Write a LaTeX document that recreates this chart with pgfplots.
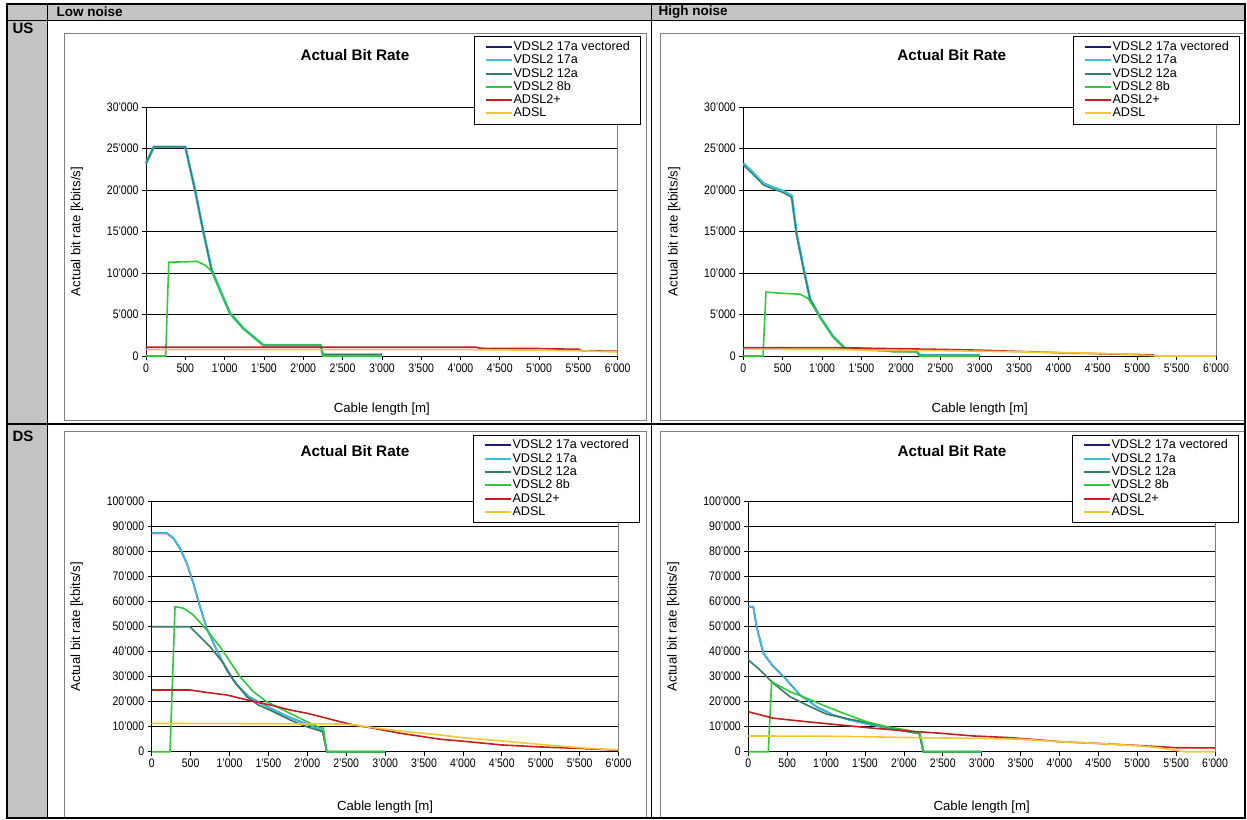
\documentclass[border=0pt]{standalone}
\usepackage{fontspec}
\setmainfont{Liberation Sans}
\usepackage{graphicx}
\usepackage{pgfplots}
\pgfplotsset{compat=1.18}
\definecolor{cvec}{RGB}{30,30,110}
\definecolor{c17a}{RGB}{60,190,225}
\definecolor{c12a}{RGB}{55,125,100}
\definecolor{c8b}{RGB}{50,200,60}
\definecolor{cadsl2}{RGB}{192,32,32}
\definecolor{cadsl}{RGB}{240,200,50}
\definecolor{tblgray}{RGB}{196,196,196}
\definecolor{chartborder}{RGB}{128,128,128}
\newcommand{\vs}[1]{\scalebox{1}[1.18]{#1}}
\pgfplotsset{
  every axis title shift=0pt,
  dsl/.style={
    scale only axis, anchor=south west,
    xmin=0, xmax=6000, xtick={0,500,...,6000}, clip=false,
    xticklabels={\vs{0},\vs{500},\vs{1'000},\vs{1'500},\vs{2'000},\vs{2'500},\vs{3'000},\vs{3'500},\vs{4'000},\vs{4'500},\vs{5'000},\vs{5'500},\vs{6'000}},
    axis x line*=bottom, axis y line*=left,
    axis line style={black, line width=0.8pt, -},
    ymajorgrids, grid style={black, line width=0.75pt},
    tick align=outside, major tick length=4pt,
    tick style={black, line width=0.7pt},
    scaled ticks=false,
    ticklabel style={font=\fontsize{10.5}{12}\selectfont},
    xlabel={Cable length [m]}, ylabel={Actual bit rate [kbits/s]},
    label style={font=\fontsize{13.2}{15}\selectfont},
    title style={font=\bfseries\fontsize{15.3}{18}\selectfont, anchor=center},
    legend style={draw=black, line width=0.8pt, fill=white, anchor=north east,
      font=\fontsize{12.6}{14}\selectfont, cells={anchor=west},
      inner xsep=10pt, inner ysep=4pt, row sep=0.3pt,
      nodes={inner sep=0.8pt, text height=9.2pt, text depth=2.2pt}},
    legend image code/.code={\draw[#1, line width=2pt] (0pt,0pt) -- (26pt,0pt);},
    legend entries={VDSL2 17a vectored, VDSL2 17a, VDSL2 12a, VDSL2 8b, ADSL2+, ADSL},
  },
  usy/.style={ymin=0, ymax=30000, ytick={0,5000,...,30000},
    yticklabels={\vs{0},\vs{5'000},\vs{10'000},\vs{15'000},\vs{20'000},\vs{25'000},\vs{30'000}}},
  dsy/.style={ymin=0, ymax=100000, ytick={0,10000,...,100000},
    yticklabels={\vs{0},\vs{10'000},\vs{20'000},\vs{30'000},\vs{40'000},\vs{50'000},\vs{60'000},\vs{70'000},\vs{80'000},\vs{90'000},\vs{100'000}}},
  sv/.style={cvec, line width=1.6pt},
  s17/.style={c17a, line width=1.6pt},
  s12/.style={c12a, line width=1.6pt},
  s8/.style={c8b, line width=1.6pt},
  sa2/.style={cadsl2, line width=1.6pt},
  sa/.style={cadsl, line width=1.6pt},
}
\begin{document}
\begin{tikzpicture}
\useasboundingbox (0,0) rectangle (1247pt,-819pt);
\fill[tblgray] (7pt,-4pt) rectangle (1245pt,-20pt);
\fill[tblgray] (7pt,-20pt) rectangle (47pt,-818pt);
\draw[chartborder, line width=1pt] (64pt,-33.5pt) rectangle (646pt,-420pt);
\draw[chartborder, line width=1pt] (660pt,-33.5pt) rectangle (1244pt,-420pt);
\draw[chartborder, line width=1pt] (64pt,-431pt) rectangle (646pt,-817pt);
\draw[chartborder, line width=1pt] (660pt,-431pt) rectangle (1244pt,-817pt);
\draw[line width=1.2pt] (7pt,-4pt) rectangle (1245pt,-818pt);
\draw[line width=1pt] (7pt,-20pt) -- (1245pt,-20pt);
\draw[line width=1.6pt] (7pt,-424pt) -- (1245pt,-424pt);
\draw[line width=1pt] (47pt,-4pt) -- (47pt,-818pt);
\draw[line width=1pt] (651pt,-4pt) -- (651pt,-818pt);
\node[anchor=west, font=\bfseries\fontsize{13.5}{15}\selectfont] at (53pt,-12pt) {Low noise};
\node[anchor=west, font=\bfseries\fontsize{13.5}{15}\selectfont] at (655pt,-12pt) {High noise};
\node[anchor=west, font=\bfseries\fontsize{15}{17}\selectfont] at (9pt,-28pt) {US};
\node[anchor=west, font=\bfseries\fontsize{15}{17}\selectfont] at (9pt,-436pt) {DS};

% ---------- US, low noise ----------
\begin{axis}[dsl, usy, at={(146pt,-356pt)}, width=471.7pt, height=249pt,
  title={Actual Bit Rate}, title style={at={(axis description cs:0.443,1.2088)}},
  legend style={at={(axis description cs:1.0494,1.285)}},
  xlabel style={at={(axis description cs:0.5,0)}, anchor=center, yshift=-53pt},
  ylabel style={at={(axis description cs:0,0.5)}, anchor=center, yshift=69pt}]
\addplot[sv] coordinates {(0,23200)(100,25200)(500,25200)(623,20000)(729,15000)(835,10360)(941,7950)(1069,5140)(1238,3330)(1493,1300)(2220,1300)(2250,150)(3000,150)};
\addplot[c17a, line width=2.6pt] coordinates {(0,23200)(100,25200)(500,25200)(623,20000)(729,15000)(835,10360)(941,7950)(1069,5140)(1238,3330)(1493,1300)(2220,1300)(2250,150)(3000,150)};
\addplot[c12a, line width=1.2pt] coordinates {(0,23200)(100,25200)(500,25200)(623,20000)(729,15000)(835,10360)(941,7950)(1069,5140)(1238,3330)(1493,1300)(2220,1300)(2250,150)(3000,150)};
\addplot[s8] coordinates {(0,0)(250,0)(290,11300)(500,11350)(650,11400)(760,10900)(835,10200)(941,7950)(1069,5140)(1238,3330)(1493,1300)(2220,1300)(2250,0)(3000,0)};
\addplot[sa2] coordinates {(0,1050)(4200,1050)(4250,930)(5000,900)(5200,850)(5500,820)(5550,620)(6000,580)};
\addplot[sa] coordinates {(0,760)(4200,760)(4500,740)(5000,700)(5500,640)(6000,480)};
\draw[chartborder, line width=0.8pt] (rel axis cs:1,0) -- (rel axis cs:1,1);
\end{axis}

% ---------- US, high noise ----------
\begin{axis}[dsl, usy, at={(743.3pt,-356pt)}, width=472.7pt, height=249pt,
  title={Actual Bit Rate}, title style={at={(axis description cs:0.441,1.2088)}},
  legend style={at={(axis description cs:1.0508,1.285)}},
  xlabel style={at={(axis description cs:0.5,0)}, anchor=center, yshift=-53pt},
  ylabel style={at={(axis description cs:0,0.5)}, anchor=center, yshift=69pt}]
\addplot[sv] coordinates {(0,23200)(100,22300)(254,20800)(381,20300)(500,19900)(614,19300)(677,14700)(762,10700)(846,6900)(973,4700)(1142,2300)(1290,950)(1500,900)(1550,750)(2200,550)(2240,100)(3000,100)};
\addplot[c17a, line width=2.6pt] coordinates {(0,23200)(100,22300)(254,20800)(381,20300)(500,19900)(614,19300)(677,14700)(762,10700)(846,6900)(973,4700)(1142,2300)(1290,950)(1500,900)(1550,750)(2200,550)(2240,100)(3000,100)};
\addplot[c12a, line width=1.2pt] coordinates {(0,23000)(100,22100)(254,20600)(381,20100)(500,19700)(614,19100)(677,14600)(762,10600)(846,6900)(973,4700)(1142,2300)(1290,950)(1500,900)(1550,750)(2200,550)(2240,100)(3000,100)};
\addplot[s8] coordinates {(0,0)(250,0)(288,7700)(500,7550)(720,7450)(825,6900)(973,4700)(1142,2300)(1290,950)(1500,800)(1800,650)(1900,500)(2200,500)(2240,0)(3000,0)};
\addplot[sa2] coordinates {(0,1000)(1200,1000)(1800,900)(2500,800)(3000,700)(3500,550)(4000,400)(4500,280)(5000,180)(5200,130)(5230,0)(6000,0)};
\addplot[sa] coordinates {(0,800)(1200,780)(1500,720)(2500,650)(3500,500)(4000,420)(4500,320)(4800,250)(5000,120)(5200,50)(5250,0)(6000,0)};
\draw[chartborder, line width=0.8pt] (rel axis cs:1,0) -- (rel axis cs:1,1);
\end{axis}

% ---------- DS, low noise ----------
\begin{axis}[dsl, dsy, at={(151.7pt,-751.7pt)}, width=466.8pt, height=250pt,
  title={Actual Bit Rate}, title style={at={(axis description cs:0.4355,1.203)}},
  legend style={at={(axis description cs:1.046,1.2688)}},
  xlabel style={at={(axis description cs:0.5,0)}, anchor=center, yshift=-55pt},
  ylabel style={at={(axis description cs:0,0.5)}, anchor=center, yshift=75pt}]
\addplot[sv] coordinates {(0,87400)(193,87400)(278,85400)(364,81400)(450,75400)(535,67400)(621,58000)(707,49400)(835,40700)(964,32700)(1093,26700)(1250,22000)(1500,17800)(1750,14000)(2000,11000)(2200,8300)(2250,0)(3000,0)};
\addplot[s17] coordinates {(0,87400)(193,87400)(278,85400)(364,81400)(450,75400)(535,67400)(621,58000)(707,49400)(835,40700)(964,32700)(1093,26700)(1250,22000)(1500,17800)(1750,14000)(2000,11000)(2200,8300)(2250,0)(3000,0)};
\addplot[s12] coordinates {(0,50000)(492,50000)(750,42000)(921,35400)(1050,28700)(1221,22000)(1371,18700)(1564,16000)(1778,12700)(1992,10000)(2198,8000)(2250,0)(3000,0)};
\addplot[s8] coordinates {(0,0)(235,0)(300,58000)(407,57400)(535,54700)(707,48700)(878,42000)(1007,36000)(1135,30000)(1307,24000)(1478,20000)(1692,16700)(1949,12700)(2163,9600)(2206,9400)(2250,0)(3000,0)};
\addplot[sa2] coordinates {(0,24700)(492,24700)(707,23700)(964,22700)(1135,21400)(1328,20000)(1564,18400)(1778,16700)(1992,15400)(2249,13400)(2420,12000)(2592,10700)(2849,9400)(3192,7400)(3492,6000)(3706,5000)(4000,4200)(4500,2700)(5000,1900)(5500,1300)(6000,600)};
\addplot[sa] coordinates {(0,11300)(2400,11100)(2600,10700)(2849,9600)(3192,8300)(3706,6700)(4000,5600)(4500,4300)(5000,2900)(5500,1600)(6000,700)};
\draw[chartborder, line width=0.8pt] (rel axis cs:1,0) -- (rel axis cs:1,1);
\end{axis}

% ---------- DS, high noise ----------
\begin{axis}[dsl, dsy, at={(748.3pt,-751.7pt)}, width=466.7pt, height=250pt,
  title={Actual Bit Rate}, title style={at={(axis description cs:0.4364,1.203)}},
  legend style={at={(axis description cs:1.0514,1.2688)}},
  xlabel style={at={(axis description cs:0.5,0)}, anchor=center, yshift=-55pt},
  ylabel style={at={(axis description cs:0,0.5)}, anchor=center, yshift=75pt}]
\addplot[sv] coordinates {(0,58000)(64,58000)(107,50000)(193,39400)(322,34000)(493,28700)(664,22700)(878,18000)(1093,14700)(1307,12700)(1500,11300)(1800,9300)(2000,8300)(2200,7300)(2250,0)(3000,0)};
\addplot[s17] coordinates {(0,58000)(64,58000)(107,50000)(193,39400)(322,34000)(493,28700)(664,22700)(878,18000)(1093,14700)(1307,12700)(1500,11300)(1800,9300)(2000,8300)(2200,7300)(2250,0)(3000,0)};
\addplot[s12] coordinates {(0,36700)(150,32700)(322,27400)(536,22000)(750,18700)(1007,15000)(1307,13000)(1500,11800)(1800,9700)(2000,8500)(2200,7300)(2250,0)(3000,0)};
\addplot[s8] coordinates {(0,0)(257,0)(300,28000)(536,24000)(750,21400)(1007,18000)(1307,14400)(1521,12000)(1778,10000)(2035,8700)(2206,7400)(2256,0)(3000,0)};
\addplot[sa2] coordinates {(0,16000)(322,13400)(750,12000)(1178,10700)(1607,9400)(2035,8300)(2463,7400)(2892,6300)(3320,5700)(3749,4700)(4000,4000)(4500,3300)(5000,2500)(5500,1600)(6000,1500)};
\addplot[sa] coordinates {(0,6300)(1000,6200)(1500,6000)(2000,5700)(3000,5300)(3500,5000)(4000,4000)(4500,3300)(5000,2400)(5300,1500)(5600,0)(6000,0)};
\draw[chartborder, line width=0.8pt] (rel axis cs:1,0) -- (rel axis cs:1,1);
\end{axis}
\end{tikzpicture}
\end{document}
